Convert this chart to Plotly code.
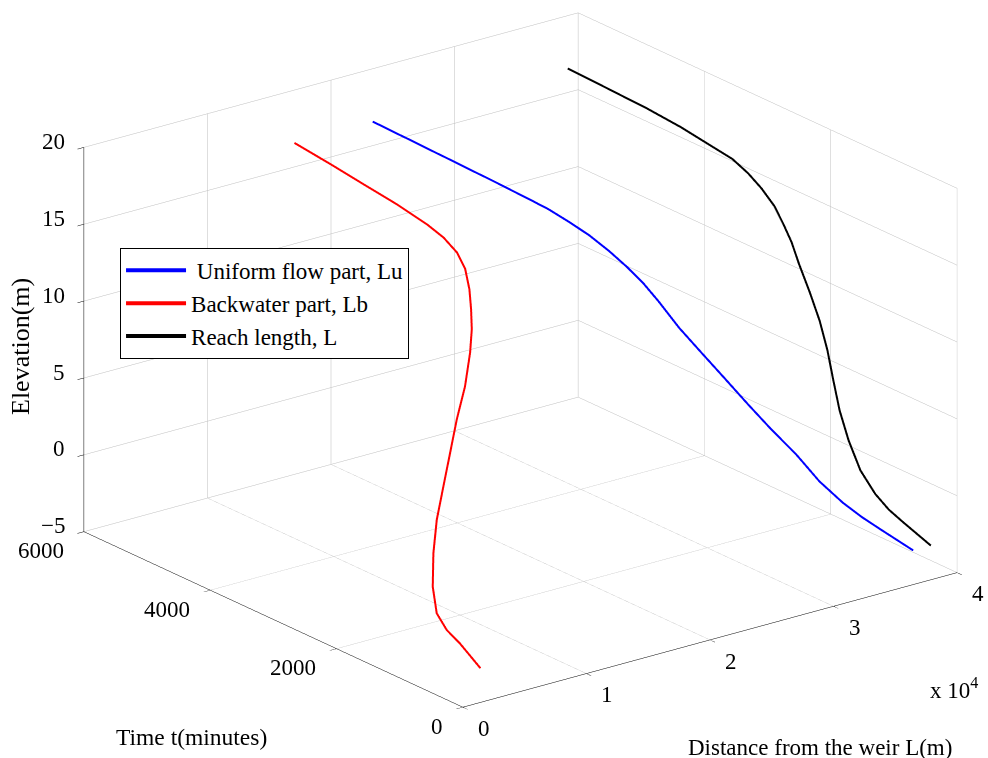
import plotly.graph_objects as go

# Shared time / water-level samples for the three lengths
time_min = [0, 420, 683, 926, 1124, 1294, 1501, 1668, 1830, 1965, 2033, 2104,
            2214, 2348, 2512, 2690, 2926, 3220, 3521, 4068, 4636, 5168, 5756]
elevation = [-2.78, -2.07, -1.76, -1.23, -0.03, 1.62, 3.11, 4.66, 6.23, 7.88, 9.70, 11.57,
             12.74, 13.64, 14.48, 15.33, 15.84, 16.16, 16.40, 16.57, 16.74, 17.03, 17.30]
backwater_Lb = [1427, 1910, 2190, 2620, 3310, 4230, 5560, 6950, 8320, 9550, 10570, 11340,
                12040, 12670, 13370, 13940, 14480, 14900, 15100, 15480, 15700, 15740, 15790]
uniform_Lu = [36450, 35910, 35780, 35490, 34610, 33600, 32600, 31560, 30540, 29370, 27900, 26600,
              25880, 25280, 24690, 23980, 23560, 23370, 23100, 22970, 22810, 22450, 22120]
reach_L = [37880, 37820, 37970, 38110, 37920, 37830, 38160, 38510, 38860, 38920, 38470, 37940,
           37920, 37950, 38060, 37920, 38040, 38270, 38200, 38450, 38510, 38190, 37910]

dist_ticks = [0, 10000, 20000, 30000, 40000]
dist_ticktext = ["0", "1", "2", "3", "4"]
time_ticks = [0, 2000, 4000, 6000]
elev_ticks = [-5, 0, 5, 10, 15, 20]

FONT = "Liberation Serif"
FS = 23

series = [
    (" Uniform flow part, Lu", uniform_Lu, "rgb(0,0,255)"),
    ("Backwater part, Lb", backwater_Lb, "rgb(255,0,0)"),
    ("Reach length, L", reach_L, "rgb(0,0,0)"),
]

fig = go.Figure()
for name, lengths, color in series:
    fig.add_trace(go.Scatter3d(
        x=lengths, y=time_min, z=elevation,
        mode="lines", name=name,
        line=dict(color=color, width=4),
        hoverinfo="skip",
    ))

axis_common = dict(
    showbackground=False,
    showgrid=True, gridcolor="rgb(190,190,190)", gridwidth=1,
    zeroline=False,
    showline=True, linecolor="black", linewidth=1,
    ticks="outside", ticklen=8, tickcolor="black",
    showticklabels=False,
    showspikes=False,
    title=dict(text=""),
)

# Tick labels anchored on the axis lines and nudged outward in pixels
tick_font = dict(family=FONT, size=FS, color="black")
scene_labels = []
for z in elev_ticks:
    scene_labels.append(dict(x=0, y=6000, z=z, text=str(z).replace("-", "\u2212"),
                             xanchor="right", yanchor="middle", xshift=-17, yshift=6))
for t in time_ticks:
    scene_labels.append(dict(x=0, y=t, z=-5, text=str(t),
                             xanchor="right", yanchor="middle", xshift=-18, yshift=-19))
for d, txt in zip(dist_ticks, dist_ticktext):
    scene_labels.append(dict(x=d, y=0, z=-5, text=txt,
                             xanchor="center", yanchor="middle", xshift=21, yshift=-21))
for a in scene_labels:
    a.update(showarrow=False, font=tick_font)

# Axis titles and the distance multiplier, in page coordinates
page_text = [
    ("Time t(minutes)", 191, 737, 0, 23.5),
    ("Distance from the weir L(m)", 820, 747, 0, 23),
    ("Elevation(m)", 20, 347, -90, 26),
    ("x 10<sup>4</sup>", 954, 688, 0, 23),
]
page_labels = [
    dict(text=txt, x=px / 988, y=1 - py / 758, textangle=ang,
         xref="paper", yref="paper", xanchor="center", yanchor="middle",
         showarrow=False, font=dict(family=FONT, size=size, color="black"))
    for txt, px, py, ang, size in page_text
]

fig.update_layout(
    width=988, height=758,
    margin=dict(l=0, r=0, t=0, b=0),
    paper_bgcolor="white",
    font=dict(family=FONT, size=FS, color="black"),
    showlegend=True,
    legend=dict(
        x=0.1215, y=0.673, xanchor="left", yanchor="top",
        bgcolor="white", bordercolor="black", borderwidth=1,
        font=dict(family=FONT, size=23, color="black"),
        itemwidth=60, tracegroupgap=0, entrywidth=232,
    ),
    scene=dict(
        domain=dict(x=[0.0536, 1.0], y=[0.05, 1.0]),
        xaxis=dict(axis_common, range=[0, 40000], tickvals=dist_ticks, autorange=False),
        yaxis=dict(axis_common, range=[0, 6000], tickvals=time_ticks, autorange=False),
        zaxis=dict(axis_common, range=[-5, 20], tickvals=elev_ticks, autorange=False),
        aspectmode="manual",
        aspectratio=dict(x=1.73, y=1.73, z=1.142),
        camera=dict(
            projection=dict(type="orthographic"),
            up=dict(x=0, y=0, z=1),
            center=dict(x=0, y=0, z=0),
            eye=dict(x=-0.5688 * 2, y=-0.7419 * 2, z=0.3551 * 2),
        ),
        annotations=scene_labels,
    ),
    annotations=page_labels,
)

fig.write_html("out.html")
